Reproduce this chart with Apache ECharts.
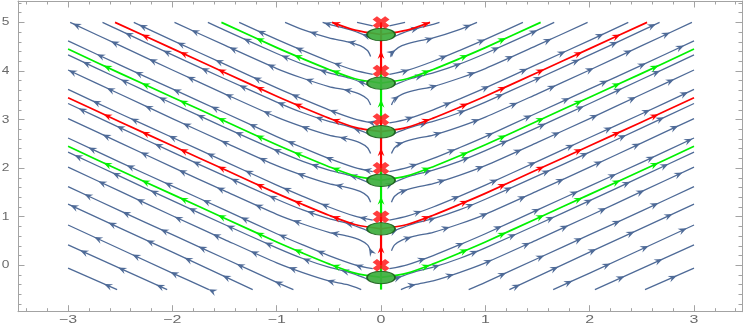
<!DOCTYPE html>
<html>
<head>
<meta charset="utf-8">
<script src="https://cdn.jsdelivr.net/npm/echarts@6/dist/echarts.min.js"></script>
<style>
  html, body { margin: 0; padding: 0; background: #fff; }
  #chart { width: 747px; height: 327px; }
</style>
</head>
<body>
<div id="chart"></div>
<script>
// axis ranges and tick labels
var xMin = -3.48, xMax = 3.46;
var yMin = -0.955, yMax = 5.44;
var xTicks = [-3, -2, -1, 0, 1, 2, 3];
var yTicks = [0, 1, 2, 3, 4, 5];

// blue stream lines, left half (the picture is mirror symmetric), listed in flow order
var blueLeft = [
  [[-2.53, -0.5], [-3, -0.06]],
  [[-2.05, -0.5], [-3, 0.42]],
  [[-1.65, -0.5], [-2, -0.16], [-3, 0.83]],
  [[-1.23, -0.5], [-2, 0.27], [-3, 1.26]],
  [[-0.84, -0.5], [-1, -0.35], [-1.5, 0.14], [-2, 0.63], [-2.5, 1.12], [-3, 1.62]],
  [[-0.19, -0.5], [-0.32, -0.4], [-0.5, -0.32], [-0.75, -0.15], [-1, 0.05], [-1.5, 0.53], [-2, 1.02], [-2.5, 1.52], [-3, 2.02]],
  [[-0.12, -0.3], [-0.17, -0.25], [-0.3, -0.15], [-0.5, -0.04], [-0.75, 0.14], [-1, 0.36], [-1.5, 0.84], [-2, 1.33], [-2.5, 1.83], [-3, 2.33]],
  // level 0
  [[-0.08, -0.07], [-0.25, 0.01], [-0.5, 0.2], [-0.75, 0.42], [-1, 0.65], [-1.5, 1.14], [-2, 1.63], [-2.5, 2.12], [-3, 2.62]],
  [[-0.1, 0.3], [-0.13, 0.42], [-0.2, 0.52], [-0.32, 0.6], [-0.5, 0.68], [-0.75, 0.85], [-1, 1.05], [-1.5, 1.53], [-2, 2.02], [-2.5, 2.52], [-3, 3.02]],
  [[-0.12, 0.7], [-0.17, 0.75], [-0.3, 0.85], [-0.5, 0.96], [-0.75, 1.14], [-1, 1.36], [-1.5, 1.84], [-2, 2.33], [-2.5, 2.83], [-3, 3.33]],
  // level 1
  [[-0.08, 0.93], [-0.25, 1.01], [-0.5, 1.2], [-0.75, 1.42], [-1, 1.65], [-1.5, 2.14], [-2, 2.63], [-2.5, 3.12], [-3, 3.62]],
  [[-0.1, 1.3], [-0.13, 1.42], [-0.2, 1.52], [-0.32, 1.6], [-0.5, 1.68], [-0.75, 1.85], [-1, 2.05], [-1.5, 2.53], [-2, 3.02], [-2.5, 3.52], [-3, 4.02]],
  [[-0.12, 1.7], [-0.17, 1.75], [-0.3, 1.85], [-0.5, 1.96], [-0.75, 2.14], [-1, 2.36], [-1.5, 2.84], [-2, 3.33], [-2.5, 3.83], [-3, 4.33]],
  // level 2
  [[-0.08, 1.93], [-0.25, 2.01], [-0.5, 2.2], [-0.75, 2.42], [-1, 2.65], [-1.5, 3.14], [-2, 3.63], [-2.5, 4.12], [-3, 4.62]],
  [[-0.1, 2.3], [-0.13, 2.42], [-0.2, 2.52], [-0.32, 2.6], [-0.5, 2.68], [-0.75, 2.85], [-1, 3.05], [-1.5, 3.53], [-2, 4.02], [-2.5, 4.52], [-2.98, 5]],
  [[-0.12, 2.7], [-0.17, 2.75], [-0.3, 2.85], [-0.5, 2.96], [-0.75, 3.14], [-1, 3.36], [-1.5, 3.84], [-2, 4.33], [-2.5, 4.83], [-2.67, 5]],
  // level 3
  [[-0.08, 2.93], [-0.25, 3.01], [-0.5, 3.2], [-0.75, 3.42], [-1, 3.65], [-1.5, 4.14], [-2, 4.63], [-2.37, 5]],
  [[-0.1, 3.3], [-0.13, 3.42], [-0.2, 3.52], [-0.32, 3.6], [-0.5, 3.68], [-0.75, 3.85], [-1, 4.05], [-1.5, 4.53], [-1.98, 5]],
  [[-0.12, 3.7], [-0.17, 3.75], [-0.3, 3.85], [-0.5, 3.96], [-0.75, 4.14], [-1, 4.36], [-1.5, 4.84], [-1.66, 5]],
  // level 4
  [[-0.08, 3.93], [-0.25, 4.01], [-0.5, 4.2], [-0.75, 4.42], [-1, 4.65], [-1.36, 5]],
  [[-0.1, 4.3], [-0.13, 4.42], [-0.2, 4.52], [-0.32, 4.6], [-0.5, 4.68], [-0.75, 4.85], [-0.92, 5]],
  [[-0.12, 4.7], [-0.17, 4.75], [-0.3, 4.85], [-0.5, 4.96], [-0.56, 5]],
  // level 5
  [[-0.08, 4.93], [-0.23, 5]]
];

// highlighted solution curves, left half
var greenLeft = [
  [[0, -0.25], [-0.25, -0.16], [-0.5, 0.03], [-0.75, 0.25], [-1, 0.48], [-1.5, 0.97], [-2, 1.46], [-2.5, 1.95], [-3, 2.45]],
  [[0, 1.75], [-0.25, 1.84], [-0.5, 2.03], [-0.75, 2.25], [-1, 2.48], [-1.5, 2.97], [-2, 3.46], [-2.5, 3.95], [-3, 4.45]],
  [[0, 3.75], [-0.25, 3.84], [-0.5, 4.03], [-0.75, 4.25], [-1, 4.48], [-1.53, 5]]
];
var redLeft = [
  [[0, 0.75], [-0.25, 0.84], [-0.5, 1.03], [-0.75, 1.25], [-1, 1.48], [-1.5, 1.97], [-2, 2.46], [-2.5, 2.95], [-3, 3.45]],
  [[0, 2.75], [-0.25, 2.84], [-0.5, 3.03], [-0.75, 3.25], [-1, 3.48], [-1.5, 3.97], [-2, 4.46], [-2.55, 5]],
  [[0, 4.75], [-0.25, 4.84], [-0.47, 5]]
];
// pieces of the vertical axis x = 0 (from y, to y) and where their arrows sit
var greenStems = [[-0.5, 0], [1, 2], [3, 4]];
var greenStemArrows = [1.42, 3.42];
var redStems = [[0, 1], [2, 3], [4, 5]];
var redStemArrows = [0.42, 2.42, 4.42];

// equilibrium markers on x = 0
var saddleY = [0, 1, 2, 3, 4, 5];
var nodeY = [-0.25, 0.75, 1.75, 2.75, 3.75, 4.75];

var BLUE = '#4e6a97', RED = '#ff0000', GREEN = '#00f000', FRAME = '#a3a3a3', LABEL = '#6a6a6a';

function mirror(l) {
  return l.map(function (p) { return [-p[0], p[1]]; });
}
function columns(c0) {
  var out = [];
  for (var c = c0; c <= 3.001; c += 0.365) out.push(c);
  return out;
}

var blueStreams = [];
blueLeft.forEach(function (l, i) {
  blueStreams.push({ pts: l, color: BLUE, width: 1.3, cols: columns(0.1 + (i * 0.23) % 0.365) });
  blueStreams.push({ pts: mirror(l), color: BLUE, width: 1.3, cols: columns(0.1 + (i * 0.23 + 0.18) % 0.365) });
});

var colorStreams = [];
greenLeft.forEach(function (l) {
  colorStreams.push({ pts: l, color: GREEN, width: 1.7, cols: columns(0.47) });
  colorStreams.push({ pts: mirror(l), color: GREEN, width: 1.7, cols: columns(0.47) });
});
redLeft.forEach(function (l) {
  colorStreams.push({ pts: l, color: RED, width: 1.7, cols: columns(0.47) });
  colorStreams.push({ pts: mirror(l), color: RED, width: 1.7, cols: columns(0.47) });
});
greenStems.forEach(function (s) {
  colorStreams.push({ pts: [[0, s[0]], [0, s[1]]], color: GREEN, width: 2.2, ys: greenStemArrows });
});
redStems.forEach(function (s) {
  colorStreams.push({ pts: [[0, s[0]], [0, s[1]]], color: RED, width: 2.2, ys: redStemArrows });
});

// where the arrow heads go on a stream (data space)
function heads(s) {
  var out = [];
  if (s.ys) {
    s.ys.forEach(function (y) {
      if (y > s.pts[0][1] && y < s.pts[1][1]) out.push({ p: [0, y], a: [0, y - 0.1], b: [0, y] });
    });
    return out;
  }
  for (var i = 0; i < s.pts.length - 1; i++) {
    var a = s.pts[i], b = s.pts[i + 1];
    var ax = Math.abs(a[0]), bx = Math.abs(b[0]);
    s.cols.forEach(function (c) {
      if (bx !== ax && c > Math.min(ax, bx) && c <= Math.max(ax, bx)) {
        var t = (c - ax) / (bx - ax);
        out.push({ p: [a[0] + t * (b[0] - a[0]), a[1] + t * (b[1] - a[1])], a: a, b: b });
      }
    });
  }
  return out;
}

function renderStream(list) {
  return function (params, api) {
    var s = list[params.dataIndex];
    var pts = s.pts.map(function (p) { return api.coord(p); });
    var kids = [{
      type: 'polyline',
      shape: { points: pts, smooth: 0.25 },
      style: { stroke: s.color, lineWidth: s.width, fill: null, lineJoin: 'round' }
    }];
    heads(s).forEach(function (h) {
      var P = api.coord(h.p), A = api.coord(h.a), B = api.coord(h.b);
      var dx = B[0] - A[0], dy = B[1] - A[1];
      var d = Math.sqrt(dx * dx + dy * dy) || 1;
      dx /= d; dy /= d;
      var L = 8.5, W = 3.4;
      kids.push({
        type: 'polygon',
        shape: { points: [
          [P[0], P[1]],
          [P[0] - L * dx + W * dy, P[1] - L * dy - W * dx],
          [P[0] - 0.65 * L * dx, P[1] - 0.65 * L * dy],
          [P[0] - L * dx - W * dy, P[1] - L * dy + W * dx]
        ] },
        style: { fill: s.color }
      });
    });
    return { type: 'group', children: kids };
  };
}

function fmt(v) {
  return v < 0 ? '\u2212' + (-v) : String(v);
}

var xMinor = [], yMinor = [];
for (var k = -17; k <= 17; k++) if (k % 5) xMinor.push(k / 5);
for (var k2 = -4; k2 <= 27; k2++) if (k2 % 5) yMinor.push(k2 / 5);

function xAx(pos, ticks, len, line) {
  return {
    type: 'value', min: xMin, max: xMax, position: pos,
    axisLine: { show: line, onZero: false, lineStyle: { color: FRAME, width: 1 } },
    axisTick: { show: true, inside: true, length: len, customValues: ticks, lineStyle: { color: FRAME, width: 1 } },
    axisLabel: { show: false },
    splitLine: { show: false }
  };
}
function yAx(pos, ticks, len, line) {
  return {
    type: 'value', min: yMin, max: yMax, position: pos,
    axisLine: { show: line, onZero: false, lineStyle: { color: FRAME, width: 1 } },
    axisTick: { show: true, inside: true, length: len, customValues: ticks, lineStyle: { color: FRAME, width: 1 } },
    axisLabel: { show: false },
    splitLine: { show: false }
  };
}

var chart = echarts.init(document.getElementById('chart'));
chart.setOption({
  animation: false,
  backgroundColor: '#fff',
  grid: { left: 18, right: 5, top: 1, bottom: 15.3 },
  xAxis: [
    xAx('bottom', xTicks, 6.5, true),
    xAx('bottom', xMinor, 3.5, false),
    xAx('top', xTicks, 6.5, true),
    xAx('top', xMinor, 3.5, false)
  ],
  yAxis: [
    yAx('left', yTicks, 6.5, true),
    yAx('left', yMinor, 3.5, false),
    yAx('right', yTicks, 6.5, true),
    yAx('right', yMinor, 3.5, false)
  ],
  series: [
    {
      type: 'custom', silent: true, z: 2,
      renderItem: renderStream(blueStreams),
      encode: { x: 0, y: 1 },
      data: blueStreams.map(function (s) { return [s.pts[0][0], s.pts[0][1]]; })
    },
    {
      type: 'custom', silent: true, z: 3,
      renderItem: renderStream(colorStreams),
      encode: { x: 0, y: 1 },
      data: colorStreams.map(function (s) { return [s.pts[0][0], s.pts[0][1]]; })
    },
    {
      type: 'scatter', silent: true, z: 5,
      symbol: 'circle', symbolSize: [28, 12.5],
      itemStyle: { color: '#3dae3d', borderColor: '#1b5f1b', borderWidth: 1.3, opacity: 0.92 },
      data: nodeY.map(function (y) { return [0, y]; })
    },
    {
      type: 'scatter', silent: true, z: 6,
      symbol: 'path://M0,2.6 L2.6,0 L5,2.4 L7.4,0 L10,2.6 L7.6,5 L10,7.4 L7.4,10 L5,7.6 L2.6,10 L0,7.4 L2.4,5 Z',
      symbolSize: [17, 12.5],
      itemStyle: { color: '#ff0d0d' },
      data: saddleY.map(function (y) { return [0, y]; })
    },
    {
      type: 'custom', silent: true, z: 7,
      encode: { x: 0, y: 1 },
      data: xTicks.map(function (v) { return [v, yMin]; }),
      renderItem: function (params, api) {
        var v = xTicks[params.dataIndex];
        var p = api.coord([v, yMin]);
        return {
          type: 'text', x: p[0], y: p[1] + 7.8, scaleX: 1.45,
          style: { text: fmt(v), fontSize: 11, fontFamily: 'Liberation Sans', fill: LABEL, align: 'center', verticalAlign: 'middle' }
        };
      }
    },
    {
      type: 'custom', silent: true, z: 7,
      encode: { x: 0, y: 1 },
      data: yTicks.map(function (v) { return [xMin, v]; }),
      renderItem: function (params, api) {
        var v = yTicks[params.dataIndex];
        var p = api.coord([xMin, v]);
        return {
          type: 'text', x: p[0] - 8.5, y: p[1], scaleX: 1.25,
          style: { text: fmt(v), fontSize: 11, fontFamily: 'Liberation Sans', fill: LABEL, align: 'right', verticalAlign: 'middle' }
        };
      }
    }
  ]
});
</script>
</body>
</html>
